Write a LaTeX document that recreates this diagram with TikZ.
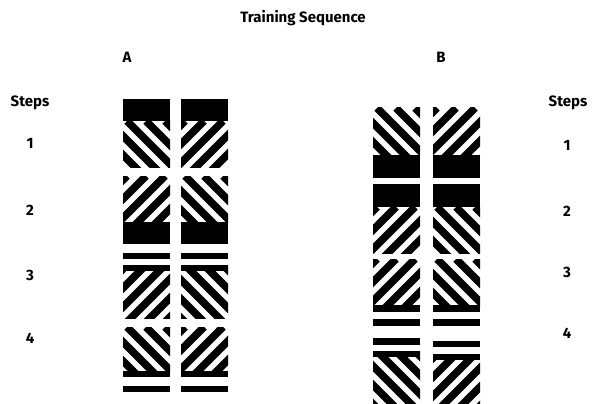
\documentclass[tikz,border=0pt]{standalone}
\usepackage{fontspec}
\setmainfont{Fira Sans}
\tikzset{
  lbl/.style={font=\bfseries\fontsize{15}{17}\selectfont, inner sep=0pt},
  stripe/.style={line width=7.5pt, black},
}
\newcommand\stripebox[5]{%
  \begin{scope}
    \clip (#1,#2) rectangle ++(#3,#4);
    \foreach \s in {-72,-53,...,124} \draw[stripe] ({#1+\s},#2) -- ++({#5*80},80);
  \end{scope}}
\newcommand\blk[3]{\fill (#1,#2) rectangle ({#1+47},#3);}
\begin{document}
\begin{tikzpicture}[x=1pt,y=-1pt]
\useasboundingbox (0,0) rectangle (606,404);
% labels
\node[lbl] (title) at (303,18) {Training Sequence};
\node[lbl] (la) at (127,57) {A};
\node[lbl] (lb) at (441,57) {B};
\node[lbl] (stepsL) at (30,103) {Steps};
\node[lbl] (stepsR) at (568,103) {Steps};
\node[lbl] (l1) at (30,143) {1};
\node[lbl] (l2) at (30,210) {2};
\node[lbl] (l3) at (30,275) {3};
\node[lbl] (l4) at (30,338) {4};
\node[lbl] (r1) at (567,145) {1};
\node[lbl] (r2) at (567,211) {2};
\node[lbl] (r3) at (567,272) {3};
\node[lbl] (r4) at (567,333) {4};
% Column A, left panel
\blk{123}{99}{121}
\stripebox{123}{121}{47}{46}{1}
\stripebox{123}{176}{47}{46}{-1}
\blk{123}{222}{244}
\blk{123}{253}{259}
\stripebox{123}{265}{47}{53}{-1}
\blk{123}{265}{271}
\stripebox{123}{327}{47}{46}{1}
\blk{123}{371}{377}
\blk{123}{386}{392}
% Column A, right panel
\blk{181}{99}{121}
\stripebox{181}{121}{47}{46}{-1}
\stripebox{181}{176}{47}{46}{1}
\blk{181}{222}{244}
\blk{181}{253}{259}
\stripebox{181}{265}{47}{53}{1}
\blk{181}{265}{271}
\stripebox{181}{327}{47}{46}{-1}
\blk{181}{371}{377}
\blk{181}{386}{392}
% Column B, left panel
\stripebox{373}{108}{47}{47}{1}
\blk{373}{155}{178}
\blk{373}{184}{207}
\stripebox{373}{207}{47}{46}{-1}
\stripebox{373}{259}{47}{47}{-1}
\blk{373}{305}{312}
\blk{373}{319}{326}
\blk{373}{338}{345}
\stripebox{373}{351}{47}{53}{1}
\blk{373}{351}{357}
% Column B, right panel
\stripebox{433}{108}{47}{47}{-1}
\blk{433}{155}{178}
\blk{433}{184}{207}
\stripebox{433}{207}{47}{46}{1}
\stripebox{433}{259}{47}{47}{1}
\blk{433}{305}{312}
\blk{433}{319}{326}
\blk{433}{341}{347}
\stripebox{433}{354}{47}{50}{-1}
\blk{433}{354}{360}
\end{tikzpicture}
\end{document}
